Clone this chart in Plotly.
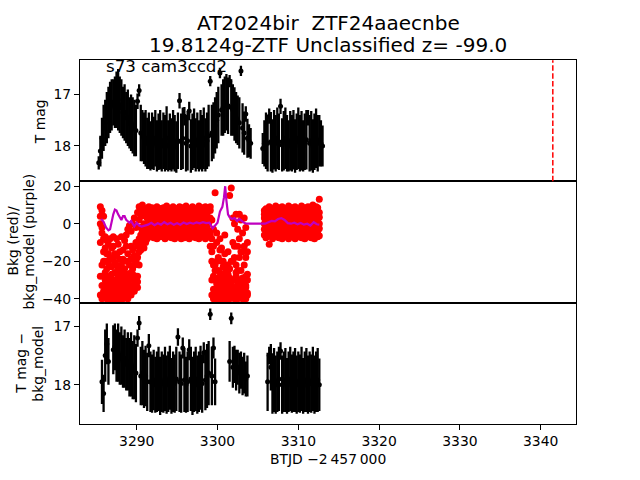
import plotly.graph_objects as go
from plotly.subplots import make_subplots

# ---------------- data ----------------
time_days = [
    3285.3, 3285.5, 3285.7, 3285.9, 3286.1, 3286.3, 3286.5, 3286.7, 3286.9, 3287.1,
    3287.3, 3287.5, 3287.7, 3287.9, 3288.1, 3288.3, 3288.5, 3288.7, 3288.9, 3289.1,
    3289.3, 3289.5, 3289.7, 3289.9, 3290.1, 3290.3, 3290.5, 3290.7, 3290.9, 3291.1,
    3291.3, 3291.5, 3291.7, 3291.9, 3292.1, 3292.3, 3292.5, 3292.7, 3292.9, 3293.1,
    3293.3, 3293.5, 3293.7, 3293.9, 3294.1, 3294.3, 3294.5, 3294.7, 3294.9, 3295.1,
    3295.3, 3295.5, 3295.7, 3295.9, 3296.1, 3296.3, 3296.5, 3296.7, 3296.9, 3297.1,
    3297.3, 3297.5, 3297.7, 3297.9, 3298.1, 3298.3, 3298.5, 3298.7, 3298.9, 3299.1,
    3299.3, 3299.5, 3299.7, 3299.9, 3300.1, 3300.3, 3300.5, 3300.7, 3300.9, 3301.1,
    3301.3, 3301.5, 3301.7, 3301.9, 3302.1, 3302.3, 3302.5, 3302.7, 3302.9, 3303.1,
    3303.3, 3303.5, 3303.7, 3303.9, 3304.1,
    3305.6, 3305.8, 3306.0, 3306.2, 3306.4, 3306.6, 3306.8, 3307.0, 3307.2, 3307.4,
    3307.6, 3307.8, 3308.0, 3308.2, 3308.4, 3308.6, 3308.8, 3309.0, 3309.2, 3309.4,
    3309.6, 3309.8, 3310.0, 3310.2, 3310.4, 3310.6, 3310.8, 3311.0, 3311.2, 3311.4,
    3311.6, 3311.8, 3312.0, 3312.2, 3312.4, 3312.6, 3312.8, 3313.0,
]

tmag = [
    18.33, 18.10, 17.85, 17.65, 17.55, 17.45, 17.35, 17.25, 17.20, 17.15,
    17.15, 17.10, 17.10, 17.20, 17.25, 17.35, 17.35, 17.45, 17.45, 17.55,
    17.55, 17.60, 17.65, 17.70, 17.13, 16.92, 17.75, 17.80, 17.85, 17.85,
    17.95, 17.90, 18.00, 17.90, 17.95, 17.85, 18.00, 17.92, 17.88, 18.00,
    17.90, 17.95, 17.85, 18.00, 17.92, 17.98, 17.88, 17.95, 18.02, 17.90,
    17.12, 17.92, 17.85, 17.42, 17.95, 17.90, 17.32, 18.00, 17.92, 17.85,
    17.98, 17.90, 18.00, 17.88, 17.95, 17.85, 17.98, 17.90, 17.80, 16.74,
    17.75, 17.70, 17.60, 17.50, 17.40, 16.58, 17.30, 17.25, 17.20, 17.15,
    17.22, 16.74, 17.25, 17.30, 17.38, 17.45, 17.50, 17.55, 16.54, 17.65,
    17.75, 17.38, 17.85, 17.90, 17.95,
    18.05, 17.95, 17.90, 17.95, 17.42, 17.92, 18.00, 17.88, 17.95, 17.85,
    17.92, 17.23, 17.98, 17.90, 17.85, 17.95, 18.00, 17.90, 17.95, 17.88,
    18.00, 17.92, 17.85, 17.95, 17.90, 18.00, 17.92, 17.88, 17.45, 17.95,
    17.90, 18.00, 17.92, 17.85, 17.95, 17.90, 17.95, 18.00,
]
tmag_err = [
    0.13, 0.30, 0.40, 0.45, 0.45, 0.50, 0.50, 0.50, 0.50, 0.45,
    0.50, 0.55, 0.60, 0.55, 0.55, 0.50, 0.55, 0.50, 0.55, 0.50,
    0.55, 0.55, 0.55, 0.50, 0.15, 0.12, 0.55, 0.50, 0.50, 0.55,
    0.50, 0.55, 0.48, 0.55, 0.52, 0.55, 0.50, 0.55, 0.58, 0.50,
    0.55, 0.55, 0.62, 0.50, 0.55, 0.52, 0.58, 0.55, 0.50, 0.55,
    0.15, 0.55, 0.60, 0.18, 0.55, 0.58, 0.18, 0.52, 0.55, 0.58,
    0.52, 0.55, 0.50, 0.58, 0.55, 0.60, 0.52, 0.55, 0.60, 0.10,
    0.55, 0.55, 0.55, 0.55, 0.55, 0.10, 0.50, 0.55, 0.55, 0.55,
    0.55, 0.12, 0.55, 0.50, 0.52, 0.50, 0.48, 0.50, 0.10, 0.48,
    0.42, 0.15, 0.38, 0.32, 0.30,
    0.30, 0.45, 0.55, 0.55, 0.15, 0.58, 0.52, 0.58, 0.55, 0.60,
    0.55, 0.15, 0.52, 0.58, 0.60, 0.55, 0.50, 0.58, 0.55, 0.58,
    0.52, 0.55, 0.60, 0.55, 0.58, 0.50, 0.55, 0.58, 0.15, 0.55,
    0.58, 0.52, 0.55, 0.58, 0.55, 0.50, 0.45, 0.40,
]

N = None
diffmag = [
    N, N, 17.95, 18.15, 17.50, 17.30, 17.60, N, N, 17.40,
    17.35, 17.50, 17.45, 17.55, 17.50, 17.60, 17.55, 17.65, 17.60, 17.70,
    17.65, 17.75, 17.70, 17.80, 17.20, 16.94, 17.85, 17.80, 17.90, 17.85,
    17.95, 17.33, 17.95, 17.98, 17.92, 18.00, 17.95, 17.90, 18.02, 17.95,
    17.98, 17.90, 18.00, 17.95, 17.88, 18.02, 17.95, 17.98, 17.90, 17.18,
    17.95, 17.98, 17.37, 17.92, 18.00, 17.95, 17.40, 17.90, 18.02, 17.95,
    17.90, 18.00, 17.95, 17.88, 17.98, 17.45, 17.92, 17.85, 17.80, 16.79,
    17.85, 17.37, 17.95, N, N, N, N, N, N, N,
    N, 17.60, 16.86, 17.70, 17.65, 17.75, 17.70, 17.80, 17.75, 17.85,
    17.80, 17.90, 17.85, N, N,
    N, N, N, 17.95, 17.50, 17.70, 17.98, 17.92, 18.00, 17.95,
    17.90, 17.42, 18.00, 17.95, 17.92, 18.02, 17.95, 17.90, 17.98, 17.95,
    17.92, 18.00, 17.95, 17.98, 17.90, 18.02, 17.95, 17.92, 18.00, 17.95,
    17.98, 17.90, 18.00, 17.95, 17.92, 18.00, N, N,
]
diffmag_err = [
    0, 0, 0.38, 0.32, 0.45, 0.35, 0.40, 0, 0, 0.42,
    0.40, 0.45, 0.50, 0.45, 0.50, 0.45, 0.50, 0.45, 0.50, 0.50,
    0.55, 0.50, 0.55, 0.50, 0.15, 0.12, 0.50, 0.55, 0.50, 0.52,
    0.50, 0.20, 0.52, 0.50, 0.52, 0.48, 0.52, 0.55, 0.50, 0.52,
    0.50, 0.55, 0.50, 0.52, 0.55, 0.48, 0.52, 0.50, 0.55, 0.15,
    0.52, 0.50, 0.18, 0.55, 0.48, 0.52, 0.18, 0.55, 0.50, 0.52,
    0.55, 0.50, 0.52, 0.55, 0.50, 0.18, 0.52, 0.55, 0.55, 0.10,
    0.50, 0.18, 0.40, 0, 0, 0, 0, 0, 0, 0,
    0, 0.35, 0.10, 0.35, 0.32, 0.35, 0.30, 0.35, 0.32, 0.33,
    0.35, 0.30, 0.35, 0, 0,
    0, 0, 0, 0.50, 0.15, 0.40, 0.52, 0.55, 0.50, 0.52,
    0.55, 0.15, 0.50, 0.52, 0.55, 0.48, 0.52, 0.55, 0.50, 0.52,
    0.55, 0.50, 0.52, 0.50, 0.55, 0.48, 0.52, 0.55, 0.50, 0.52,
    0.50, 0.55, 0.50, 0.52, 0.55, 0.45, 0, 0,
]

# background flux samples (red), six samples per time stamp
bkg_a = [
    N, 9, 7, 4, -7, -9, -11, -8, -13, -7,
    -16, -8, -11, -19, -7, -14, -9, -6, -3, -1,
    -4, 0, 3, -2, 6, 9, 7, 10, 5, 8,
    7, 9, 6, 8.5, 7.5, 6.5, 9, 7, 8, 6,
    8.5, 7, 9.5, 6, 8, 7.5, 9, 6.5, 8, 7,
    9, 6, 8.5, 7, 9.5, 6.5, 8, 7.5, 9, 6,
    8, 7, 9.5, 6.5, 8.5, 7, 9, 6, 8, 7,
    2, -3, 16.5, -5, -18, -8, -13, -20, -6, -25,
    -22, 15, 19, 3, 0, 5, -3, 5, 2, -5,
    3, -2, -10, N, N,
    N, 7, 8, 6.5, 9, 7.5, 8, 6, 9.5, 7,
    8.5, 6.5, 9, 7, 8, 6, 9.5, 7.5, 8.5, 6.5,
    9, 7, 8, 6, 9.5, 7, 8.5, 6.5, 9, 7.5,
    8, 10, 7, 9, 8.5, 13, N, N,
]
bkg_b = [
    N, -38, -40, -36, -39, -40, -37, -40, -38, -40,
    -39, -40, -36, -40, -38, -40, -37, -39, -40, -36,
    -38, -33, -30, -32, -28, -15, -14, -12, -13, -10,
    -8, -7, -6.5, -5.5, -7.5, -6, -8, -5, -7, -6.5,
    -5.5, -8, -6, -7, -5, -7.5, -6, -8, -5.5, -7,
    -6, -8, -5, -7.5, -6.5, -5.5, -8, -6, -7, -5,
    -7.5, -6, -8, -5.5, -7, -6, -8, -5, -7, -6,
    -38, -40, -36, -40, -38, -40, -39, -40, -37, -40,
    -38, -40, -39, -37, -40, -38, -40, -39, -36, -40,
    -38, -40, -37, N, N,
    N, -6, -7.5, -5.5, -11, -6.5, -8, -5, -7, -6,
    -7.5, -5.5, -8, -6, -7, -5, -8, -6.5, -7, -5.5,
    -8, -6, -7, -5, -7.5, -6, -8, -5.5, -7, -6.5,
    -7.5, -5, -8, -6, -7, -6.5, N, N,
]
bkg_c = [
    N, -10, -22, -28, -30, -24, -29, -32, -27, -30,
    -26, -31, -28, -33, -29, -25, -32, -30, -27, -28,
    -26, -24, -22, -20, -18, -8, -6, -4, -2, -3,
    0, 1, -0.5, 1.5, 0, -1, 2, 0.5, -0.5, 1,
    0, 1.5, -1, 0.5, 2, -0.5, 1, 0, 1.5, -1,
    0.5, 2, -0.5, 1, 0, 1.5, -1, 0.5, 2, 0,
    1, -0.5, 1.5, 0, 2, -1, 0.5, 1, 0, -12,
    -30, -28, -25, -32, -29, -33, -31, -28, -30, -34,
    -31, -29, -33, -30, -34, -28, -32, -30, -35, -29,
    -31, -33, -30, N, N,
    N, 0, 1.5, -0.5, 1, 0, 2, -1, 0.5, 1.5,
    0, -0.5, 1, 2, 0, 1.5, -1, 0.5, 1, 0,
    2, -0.5, 1, 0, 1.5, -1, 0.5, 2, 0, 1,
    -0.5, 1.5, 0, 1, 2, 0, N, N,
]
bkg_d = [
    N, 0, -5, -15, -20, -33, -35, -36, -34, -35,
    -36, -34, -38, -35, -33, -36, -34, -35, -33, -38,
    -35, -36, -34, -33, -31, 2, -2, 5, 0, 4,
    3, 4.5, 2.5, 4, 3.5, 5, 2, 4, 3, 5.5,
    3, 4, 2.5, 5, 3.5, 4.5, 2, 4, 5, 3,
    4.5, 3, 5, 2.5, 4, 3.5, 5.5, 3, 4, 2.5,
    5, 3.5, 4, 2.5, 4.5, 3, 5, 4, 3, 3,
    -20, -35, -30, -37, -35, -36, -38, -33, -35, -37,
    -35, -33, -36, -20, -30, -36, -25, -34, -38, -33,
    -36, -34, -38, N, N,
    N, 3, 4.5, 2.5, 5, 3.5, 4, 3, 5.5, 2.5,
    4, 3.5, 5, 3, 4.5, 2.5, 5, 4, 3, 4.5,
    3.5, 5, 2.5, 4, 3, 5.5, 3.5, 4, 2.5, 5,
    3, 4.5, 4, 3, 5, 3.5, N, N,
]
bkg_e = [
    N, -28, -33, -20, -13, -16, -21, -18, -23, -19,
    -21, -17, -24, -26, -22, -19, -24, -20, -16, -22,
    -19, -14, -17, -10, -12, -10, -9, -7, -8, -6,
    -3, -2.5, -4, -2, -3.5, -1.5, -3, -4.5, -2, -3.5,
    -2.5, -4, -1.5, -3, -4.5, -2, -3.5, -1.5, -4, -3,
    -2, -3.5, -4.5, -1.5, -3, -2.5, -4, -2, -3.5, -1.5,
    -3, -4.5, -2, -3.5, -1.5, -4, -2.5, -3, -4, -4,
    -15, -22, -38, -20, -25, -14, -36, -23, -16, -30,
    -27, -24, -31, -10, -18, -22, -12, -18, -25, -15,
    -22, -18, -27, N, N,
    N, -3, -2, -4.5, -1.5, -3.5, -2.5, -4, -2, -3,
    -4.5, -1.5, -3, -2.5, -4, -2, -3.5, -1.5, -4.5, -3,
    -2, -3.5, -4, -1.5, -3, -2.5, -4.5, -2, -3.5, -3,
    -4, -2, -3, -4.5, -1.5, -2.5, N, N,
]
bkg_f = [
    N, 4, -2, -8, -26, -38, -16, -28, -31, -12,
    -33, -22, -30, -15, -37, -31, -27, -12, -34, -30,
    -12, -27, -36, -28, -34, -22, 4, -11, 8, -5,
    5, -6, 7, -4, 6, -7, 3, -5, 8, -2,
    6, -6, 1, 7, -3, 5, -7, 3, -4, 8,
    -5, 6, -2, 8, -6, 4, -3, 7, -5, 5,
    -4, 8, -6, 6, -2, 7, -5, 4, -7, 9,
    -8, -12, -22, -10, -33, -26, -20, -38, -27, -35,
    -15, -38, -20, -38, -12, -26, -38, -8, -15, -36,
    -12, -28, -15, N, N,
    N, 5, -6, 7, -3, 6, -5, 8, -4, 5,
    -7, 6, -2, 8, -5, 4, -6, 7, -3, 5,
    -6, 8, -4, 6, -7, 5, -2, 7, -5, 4,
    -6, 7, -3, 8, -4, 6, N, N,
]

# background model (purple line)
model_t = [
    3285.6, 3285.9, 3286.2, 3286.5, 3286.7, 3286.9, 3287.1, 3287.3, 3287.5, 3287.7,
    3287.9, 3288.1, 3288.3, 3288.5, 3288.7, 3288.9, 3289.1, 3289.3, 3289.5, 3289.7,
    3290.0, 3290.3, 3290.6, 3291.0, 3291.4, 3291.8, 3292.2, 3292.6, 3293.0, 3293.4,
    3293.8, 3294.2, 3294.6, 3295.0, 3295.4, 3295.8, 3296.2, 3296.6, 3297.0, 3297.4,
    3297.8, 3298.2, 3298.6, 3299.0, 3299.4, 3299.7, 3300.0, 3300.3, 3300.6, 3300.8,
    3300.95, 3301.1, 3301.3, 3301.5, 3301.8, 3302.1, 3302.4, 3302.7, 3303.0, 3303.3,
    3303.6, 3305.9, 3306.3, 3306.7, 3307.1, 3307.5, 3307.9, 3308.3, 3308.7, 3309.1,
    3309.5, 3309.9, 3310.3, 3310.7, 3311.1, 3311.5, 3311.9, 3312.3, 3312.6,
]
model_bkg = [
    2.5, 1, -2, -3.5, -3, 2, 5, 7.5, 7, 5,
    3.5, 2, 4, 4, 2, 1, 0.5, 1.5, 0, -1.5,
    0.5, -1, -1.5, -1, -0.5, 0.5, -0.8, 0.2, -0.5, 0.8,
    -0.3, 0.5, -0.6, 0.3, -0.5, 0.6, -0.2, 0.5, 0, 0.7,
    0.2, 0.8, 0.3, 0.5, -2.5, -1, 0.5, 6.5, 9, 14,
    20, 12.5, 5, 3.5, 2.5, 3, 1.5, 2.5, 1.5, 0.5,
    0, 0, 0.8, 1.5, 1.2, 2.5, 3, 2, 0.3, 0,
    0.5, -0.3, 0.4, -0.5, 0, -1, 0.8, -0.3, -0.5,
]

vline_t = 3341.5
x_ticks = [3290, 3300, 3310, 3320, 3330, 3340]

# ---------------- figure ----------------
W, H = 640, 480
FONT = "DejaVu Sans"
fig = make_subplots(rows=3, cols=1, shared_xaxes=True, vertical_spacing=0)

fig.add_trace(go.Scatter(
    x=time_days, y=tmag, mode="markers",
    marker=dict(color="black", size=5),
    error_y=dict(type="data", array=tmag_err, color="black", thickness=2.3, width=0),
), row=1, col=1)

red_x = time_days * 6
red_y = bkg_a + bkg_b + bkg_c + bkg_d + bkg_e + bkg_f
fig.add_trace(go.Scatter(
    x=red_x, y=red_y, mode="markers",
    marker=dict(color="#ff0000", size=7, line=dict(width=0)),
), row=2, col=1)
fig.add_trace(go.Scatter(
    x=model_t, y=model_bkg, mode="lines",
    line=dict(color="#bf00bf", width=2.2),
), row=2, col=1)

fig.add_trace(go.Scatter(
    x=time_days, y=diffmag, mode="markers",
    marker=dict(color="black", size=5),
    error_y=dict(type="data", array=diffmag_err, color="black", thickness=2.3, width=0),
), row=3, col=1)

fig.add_shape(type="line", x0=vline_t, x1=vline_t, y0=0, y1=1,
              xref="x", yref="y domain",
              line=dict(color="red", width=1.5, dash="5.5px,2.4px"))

def py(p):
    return 1 - p / H

xdom = [80 / W, 576 / W]
axis_common = dict(showline=True, mirror=True, linecolor="black", linewidth=1,
                   showgrid=False, zeroline=False,
                   tickfont=dict(family=FONT, size=13.9, color="black"),
                   tickcolor="black", ticklen=5, tickwidth=1)
xr = [3282.98, 3344.37]
fig.update_layout(
    xaxis=dict(domain=xdom, range=xr, ticks="", showticklabels=False, **axis_common),
    xaxis2=dict(domain=xdom, range=xr, ticks="", showticklabels=False, **axis_common),
    xaxis3=dict(domain=xdom, range=xr, ticks="outside", tickvals=x_ticks, showticklabels=True, **axis_common),
    yaxis=dict(domain=[py(181), py(58)], range=[18.69, 16.33], ticks="outside", tickvals=[17, 18], **axis_common),
    yaxis2=dict(domain=[py(304), py(181)], range=[-42.1, 22.6], ticks="outside", tickvals=[-40, -20, 0, 20], **axis_common),
    yaxis3=dict(domain=[py(427), py(304)], range=[18.67, 16.59], ticks="outside", tickvals=[17, 18], **axis_common),
)

def ann(text, x, y, size=13.9, angle=0, xanchor="center"):
    fig.add_annotation(text=text, x=x / W, y=py(y), xref="paper", yref="paper",
                       showarrow=False, textangle=angle, xanchor=xanchor, yanchor="middle",
                       font=dict(family=FONT, size=size, color="black"))

ann("AT2024bir\u00a0 ZTF24aaecnbe", 328, 20, size=20)
ann("19.8124g-ZTF Unclassified z= -99.0", 328, 43, size=20)
ann("s73 cam3ccd2", 104, 64, size=16.7, xanchor="left")
ann("T mag", 40, 121, angle=-90)
ann("Bkg (red)/", 13, 242, angle=-90)
ann("bkg_model (purple)", 29, 242, angle=-90)
ann("T mag \u2212", 21, 366, angle=-90)
ann("bkg_model", 38, 366, angle=-90)
ann("BTJD \u22122\u2009457\u2009000", 328, 463)

fig.update_layout(width=W, height=H, margin=dict(l=0, r=0, t=0, b=0),
                  paper_bgcolor="white", plot_bgcolor="white", showlegend=False,
                  font=dict(family=FONT, color="black"))

fig.write_html("out.html")
